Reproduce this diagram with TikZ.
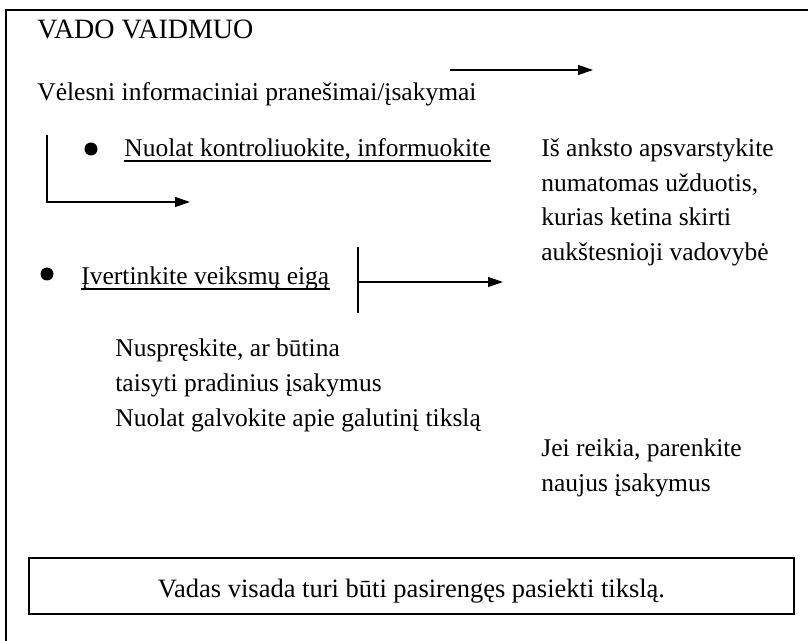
\documentclass[tikz,border=0pt]{standalone}
\usepackage{fontspec}
\setmainfont{Liberation Serif}
\usetikzlibrary{positioning,arrows.meta}

\begin{document}
\begin{tikzpicture}[x=0.5pt, y=-0.5pt,
    vv title/.style={inner sep=0pt, anchor=base west, font=\fontsize{14}{17}\selectfont},
    vv text/.style={inner sep=0pt, anchor=base west, font=\fontsize{12.75}{15}\selectfont},
    vv bullet/.style={circle, fill=black, minimum size=6.5pt, inner sep=0pt},
    vv line/.style={line width=0.65pt},
    vv arrow/.style={vv line, -{Triangle[length=7.5pt,width=5pt]}},
    vv frame/.style={line width=1pt},
    vv box/.style={draw, line width=0.65pt, minimum width=382.5pt, minimum height=28pt, inner sep=0pt, text height=11pt, text depth=0pt, font=\fontsize{13.25}{16}\selectfont}]
    \useasboundingbox (0,0) rectangle (808,641);

    % outer frame, cut off at the right and bottom
    \coordinate (frame tr) at (808,10);
    \coordinate (frame tl) at (6,10);
    \coordinate (frame bl) at (6,641);
    \draw[vv frame] (frame tr) -- (frame tl) -- (frame bl);

    \node[vv title] (title) at (37,39) {VADO VAIDMUO};
    \node[vv text] (later) at (37,101) {Vėlesni informaciniai pranešimai/įsakymai};
    \coordinate (top from) at (450,70);
    \coordinate (top to) at (593,70);
    \draw[vv arrow] (top from) -- (top to);

    % first bullet
    \node[vv bullet] (dot1) at (91,149) {};
    \node[vv text] (watch) at (124,157) {Nuolat kontroliuokite, informuokite};
    \draw[vv line] ([yshift=-2pt]watch.base west) -- ([yshift=-2pt]watch.base east);
    \coordinate (watch top) at (47,135);
    \coordinate (watch end) at (190,202);
    \draw[vv arrow] (watch top) |- (watch end);

    \node[vv text] (plan1) at (541,157) {Iš anksto apsvarstykite};
    \node[vv text] (plan2) at ([yshift=-17.25pt]plan1.base west) {numatomas užduotis,};
    \node[vv text] (plan3) at ([yshift=-17.25pt]plan2.base west) {kurias ketina skirti};
    \node[vv text] (plan4) at ([yshift=-17.25pt]plan3.base west) {aukštesnioji vadovybė};

    % second bullet
    \node[vv bullet] (dot2) at (47,274) {};
    \node[vv text] (assess) at (81,285) {Įvertinkite veiksmų eigą};
    \draw[vv line] ([yshift=-2pt]assess.base west) -- ([yshift=-2pt]assess.base east);
    \coordinate (bar top) at (358,247);
    \coordinate (bar bottom) at (358,313);
    \coordinate (bar mid) at (358,282);
    \coordinate (bar end) at (503,282);
    \draw[vv line] (bar top) -- (bar bottom);
    \draw[vv arrow] (bar mid) -- (bar end);

    \node[vv text] (decide1) at (115,357) {Nuspręskite, ar būtina};
    \node[vv text] (decide2) at ([yshift=-17.25pt]decide1.base west) {taisyti pradinius įsakymus};
    \node[vv text] (decide3) at ([yshift=-17.25pt]decide2.base west) {Nuolat galvokite apie galutinį tikslą};

    \node[vv text] (orders1) at (541,456) {Jei reikia, parenkite};
    \node[vv text] (orders2) at ([yshift=-17.5pt]orders1.base west) {naujus įsakymus};

    \node[vv box] (goal) at (411.5,586) {Vadas visada turi būti pasirengęs pasiekti tikslą.};
\end{tikzpicture}
\end{document}
